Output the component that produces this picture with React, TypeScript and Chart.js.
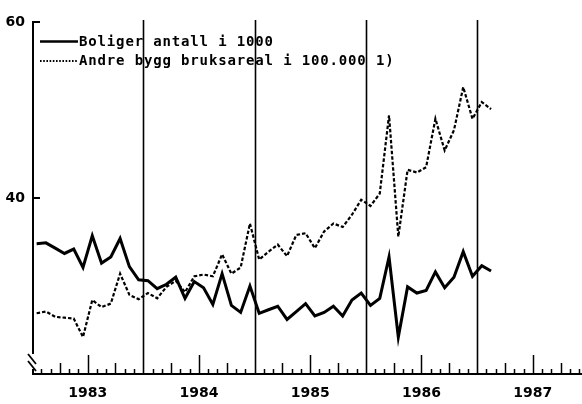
import React, { useEffect, useRef } from "react";
import { Chart, registerables } from "chart.js";

Chart.register(...registerables);

// Year labels (placed mid-year); x values are months since Jan 1983
const years = ["1983", "1984", "1985", "1986", "1987"];
const yTicks = [60, 40];
const legendLabels = ["Boliger antall i 1000", "Andre bygg bruksareal i 100.000 1)"];

// Boliger antall i 1000 (monthly, Jan 1983 – Feb 1987)
const boliger = [
  34.8, 34.9, 34.3, 33.7, 34.2, 32.1, 35.7, 32.6, 33.3, 35.4, 32.2, 30.7,
  30.6, 29.7, 30.2, 31.0, 28.6, 30.5, 29.8, 27.9, 31.4, 27.8, 27.0, 30.0,
  26.9, 27.3, 27.7, 26.2, 27.1, 28.0, 26.6, 27.0, 27.7, 26.6, 28.4, 29.2,
  27.8, 28.6, 33.3, 24.2, 29.9, 29.2, 29.5, 31.6, 29.8, 31.0, 33.9, 31.1,
  32.3, 31.7,
];

// Andre bygg bruksareal i 100.000 (monthly)
const andre = [
  26.9, 27.1, 26.5, 26.4, 26.3, 24.2, 28.4, 27.6, 28.0, 31.4, 29.0, 28.5,
  29.2, 28.6, 29.9, 30.6, 29.3, 31.1, 31.3, 31.1, 33.6, 31.4, 32.1, 37.1,
  33.0, 33.9, 34.7, 33.4, 35.8, 36.0, 34.3, 36.2, 37.1, 36.7, 38.1, 39.8,
  39.1, 40.5, 49.4, 35.6, 43.2, 42.9, 43.5, 49.0, 45.4, 47.7, 52.6, 49.0,
  50.9, 50.1,
];

const FONT = "'DejaVu Sans', sans-serif";

export default function App() {
  const ref = useRef<HTMLCanvasElement>(null);

  useEffect(() => {
    if (!ref.current) return;
    const toPts = (arr: number[]) => arr.map((v, i) => ({ x: i + 0.5, y: v }));

    const overlay = {
      id: "overlay",
      afterDraw(chart: any) {
        const { ctx, chartArea: a, scales } = chart;
        const x = scales.x;
        const y = scales.y;
        const seg = (x1: number, y1: number, x2: number, y2: number) => {
          ctx.beginPath();
          ctx.moveTo(x1, y1);
          ctx.lineTo(x2, y2);
          ctx.stroke();
        };
        ctx.save();
        ctx.strokeStyle = "#000";
        ctx.fillStyle = "#000";
        ctx.lineCap = "butt";

        // year boundary lines
        ctx.lineWidth = 1.6;
        for (let m = 12; m < x.max; m += 12) {
          const px = Math.round(x.getPixelForValue(m)) + 0.5;
          seg(px, a.top - 2, px, a.bottom);
        }

        // bottom axis line
        ctx.lineWidth = 2;
        seg(a.left, a.bottom, a.right + 1, a.bottom);

        // month ticks
        ctx.lineWidth = 1.5;
        for (let m = 1; m < x.max; m++) {
          if (m % 12 === 0) continue;
          const len = m % 6 === 0 ? 19 : m % 3 === 0 ? 11 : 5;
          const px = Math.round(x.getPixelForValue(m)) + 0.5;
          seg(px, a.bottom, px, a.bottom - len);
        }

        // y axis with break
        const lx = a.left + 1;
        ctx.lineWidth = 2;
        seg(lx, y.getPixelForValue(60) - 1, lx, a.bottom - 20);
        seg(lx, a.bottom - 5, lx, a.bottom);
        ctx.lineWidth = 1.8;
        seg(lx - 5, a.bottom - 20, lx + 3, a.bottom - 10);
        seg(lx - 5, a.bottom - 13, lx + 3, a.bottom - 3);

        // y ticks (inside)
        ctx.lineWidth = 2;
        for (const v of yTicks) {
          const py = Math.round(y.getPixelForValue(v));
          seg(lx - 1, py, lx + 7, py);
        }

        // legend
        const lxs = 40;
        const lxe = 78;
        const rows = [41.5, 61];
        ctx.lineWidth = 2.6;
        ctx.setLineDash([]);
        seg(lxs, rows[0], lxe, rows[0]);
        ctx.lineWidth = 2;
        ctx.setLineDash([1.6, 1.6]);
        seg(lxs, rows[1], lxe, rows[1]);
        ctx.setLineDash([]);
        ctx.font = "bold 14px 'DejaVu Sans Mono', monospace";
        (ctx as any).letterSpacing = "0.85px";
        ctx.textBaseline = "middle";
        ctx.textAlign = "left";
        legendLabels.forEach((t, i) => ctx.fillText(t, lxe + 1, rows[i] + 0.5));
        ctx.restore();
      },
    };

    const chart = new Chart(ref.current, {
      type: "line",
      data: {
        datasets: [
          {
            label: legendLabels[0],
            data: toPts(boliger),
            borderColor: "#000",
            borderWidth: 3,
            pointRadius: 0,
            tension: 0,
            fill: false,
          },
          {
            label: legendLabels[1],
            data: toPts(andre),
            borderColor: "#000",
            borderWidth: 2.2,
            borderDash: [3.5, 2],
            pointRadius: 0,
            tension: 0,
            fill: false,
          },
        ],
      },
      options: {
        animation: false,
        responsive: false,
        devicePixelRatio: 1,
        layout: { padding: { top: 22, right: 1, left: 0, bottom: 0 } },
        plugins: { legend: { display: false }, tooltip: { enabled: false } },
        scales: {
          x: {
            type: "linear",
            min: 0,
            max: 59.2,
            grid: { display: false, drawTicks: false },
            border: { display: false },
            afterBuildTicks: (s: any) => {
              s.ticks = years.map((_, i) => ({ value: 6 + 12 * i }));
            },
            afterFit: (s: any) => {
              s.height = 30;
            },
            ticks: {
              autoSkip: false,
              maxRotation: 0,
              padding: 11,
              color: "#000",
              font: { family: FONT, size: 14, weight: "bold" },
              callback: (v: any) => years[Math.round((Number(v) - 6) / 12)],
            },
          },
          y: {
            min: 20,
            max: 60,
            grid: { display: false, drawTicks: false },
            border: { display: false },
            afterBuildTicks: (s: any) => {
              s.ticks = yTicks.map((v) => ({ value: v }));
            },
            afterFit: (s: any) => {
              s.width = 32;
            },
            ticks: {
              padding: 7,
              color: "#000",
              font: { family: FONT, size: 14, weight: "bold" },
            },
          },
        },
      },
      plugins: [overlay],
    } as any);

    return () => chart.destroy();
  }, []);

  return (
    <div style={{ position: "fixed", left: 0, top: 0, width: 582, height: 404, background: "#fff" }}>
      <canvas ref={ref} width={582} height={404} />
    </div>
  );
}
